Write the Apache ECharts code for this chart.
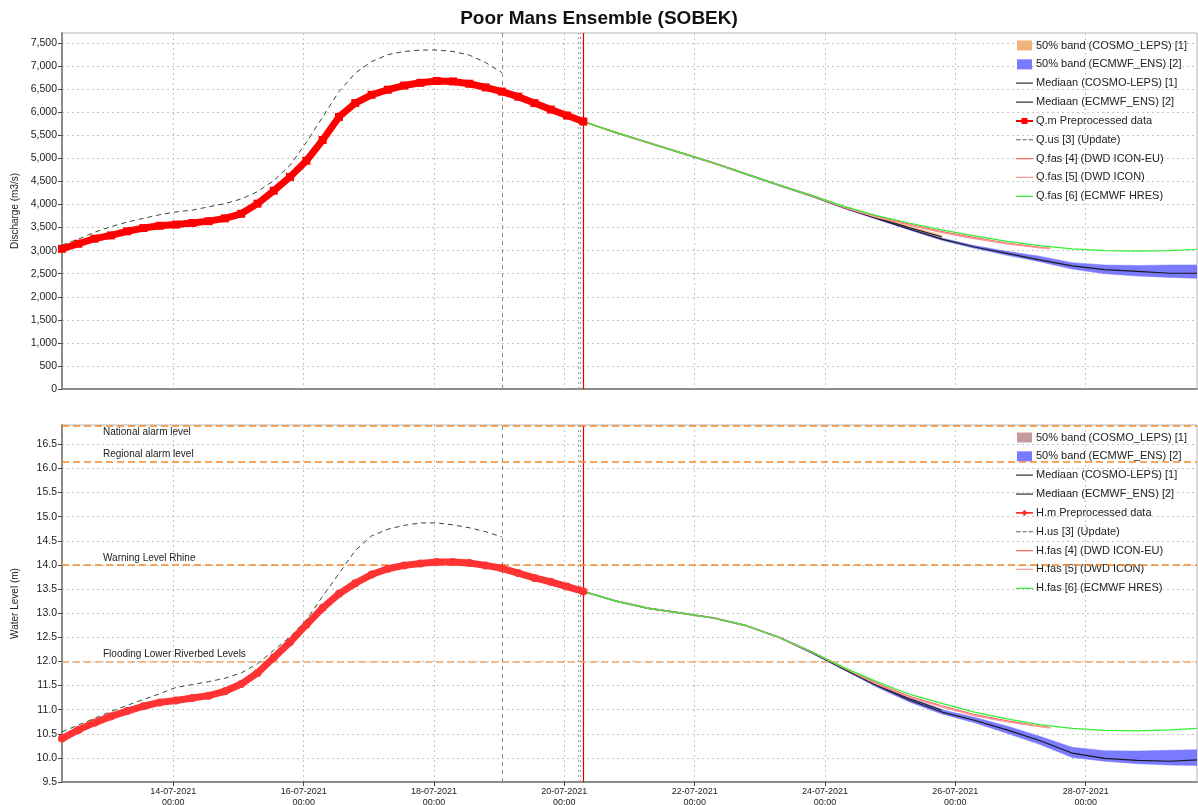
<!DOCTYPE html>
<html><head><meta charset="utf-8">
<script src="https://cdn.jsdelivr.net/npm/echarts@6/dist/echarts.min.js"></script>
<style>html,body{margin:0;padding:0;background:#fff}#c{width:1198px;height:805px}</style>
</head><body><div id="c"></div><script>
// ---------- DATA ----------
const obsTimes = ['2021-07-12 07:00','2021-07-12 13:00','2021-07-12 19:00','2021-07-13 01:00','2021-07-13 07:00','2021-07-13 13:00','2021-07-13 19:00','2021-07-14 01:00','2021-07-14 07:00','2021-07-14 13:00','2021-07-14 19:00','2021-07-15 01:00','2021-07-15 07:00','2021-07-15 13:00','2021-07-15 19:00','2021-07-16 01:00','2021-07-16 07:00','2021-07-16 13:00','2021-07-16 19:00','2021-07-17 01:00','2021-07-17 07:00','2021-07-17 13:00','2021-07-17 19:00','2021-07-18 01:00','2021-07-18 07:00','2021-07-18 13:00','2021-07-18 19:00','2021-07-19 01:00','2021-07-19 07:00','2021-07-19 13:00','2021-07-19 19:00','2021-07-20 01:00','2021-07-20 07:00'];
const updTimes = obsTimes.slice(0, 28);
const fcTimes = ['2021-07-20 07:00','2021-07-20 19:00','2021-07-21 07:00','2021-07-21 19:00','2021-07-22 07:00','2021-07-22 19:00','2021-07-23 07:00','2021-07-23 19:00','2021-07-24 07:00','2021-07-24 19:00','2021-07-25 07:00','2021-07-25 19:00','2021-07-26 07:00','2021-07-26 19:00','2021-07-27 07:00','2021-07-27 19:00','2021-07-28 07:00','2021-07-28 19:00','2021-07-29 07:00','2021-07-29 17:00'];
const cosmoTimes = fcTimes.slice(0, 12);
const iconTimes = ['2021-07-20 07:00','2021-07-20 19:00','2021-07-21 07:00','2021-07-21 19:00','2021-07-22 07:00','2021-07-22 19:00','2021-07-23 07:00','2021-07-23 19:00','2021-07-24 07:00','2021-07-24 19:00','2021-07-25 07:00','2021-07-25 19:00','2021-07-26 07:00','2021-07-26 19:00','2021-07-27 07:00','2021-07-27 11:00'];

// Discharge (m3/s)
const qObs = [3040,3150,3260,3330,3420,3490,3540,3565,3600,3640,3700,3800,4020,4300,4600,4950,5400,5900,6200,6380,6490,6580,6640,6680,6670,6620,6540,6450,6340,6200,6060,5930,5800];
const qUpd = [3120,3250,3400,3520,3620,3700,3780,3840,3880,3950,4020,4120,4280,4520,4850,5350,5900,6450,6850,7100,7250,7320,7350,7350,7320,7240,7080,6860];
const qHres = [5800,5560,5340,5120,4900,4660,4420,4200,3960,3760,3600,3450,3320,3200,3110,3040,3000,2990,3000,3030];
const qEnsMed = [5800,5560,5340,5120,4900,4660,4420,4190,3930,3700,3470,3250,3080,2940,2800,2670,2590,2550,2510,2510];
const qEnsLow = [5800,5550,5330,5110,4890,4650,4410,4175,3915,3680,3450,3225,3050,2900,2760,2600,2500,2450,2420,2400];
const qEnsHigh = [5800,5570,5350,5130,4910,4670,4430,4205,3945,3720,3495,3275,3110,2985,2880,2740,2690,2680,2690,2690];
const qCosmoMed = [5800,5560,5340,5120,4900,4660,4420,4190,3940,3720,3500,3300];
const qCosmoLow = [5790,5545,5325,5105,4885,4645,4405,4170,3915,3690,3465,3265];
const qCosmoHigh = [5810,5575,5355,5135,4915,4675,4435,4210,3965,3750,3535,3335];
const qIconEu = [5800,5560,5340,5120,4900,4660,4420,4200,3950,3745,3575,3415,3285,3165,3075,3050];
const qIcon = [5800,5560,5340,5120,4900,4660,4420,4195,3940,3725,3555,3395,3265,3150,3065,3045];

// Water level (m)
const hObs = [10.40,10.58,10.73,10.86,10.97,11.07,11.15,11.19,11.24,11.29,11.38,11.53,11.76,12.08,12.40,12.76,13.11,13.40,13.62,13.80,13.92,13.99,14.03,14.06,14.06,14.04,13.99,13.93,13.83,13.73,13.65,13.55,13.45];
const hUpd = [10.54,10.68,10.82,10.96,11.09,11.21,11.33,11.46,11.52,11.58,11.65,11.76,11.95,12.23,12.51,12.86,13.35,13.82,14.30,14.60,14.74,14.82,14.87,14.87,14.83,14.77,14.69,14.58];
const hHres = [13.45,13.25,13.10,13.00,12.90,12.74,12.50,12.20,11.87,11.58,11.32,11.13,10.95,10.81,10.69,10.61,10.57,10.56,10.58,10.61];
const hEnsMed = [13.45,13.25,13.10,13.00,12.90,12.74,12.50,12.19,11.84,11.50,11.20,10.95,10.78,10.58,10.36,10.10,9.99,9.95,9.93,9.96];
const hEnsLow = [13.45,13.24,13.09,12.99,12.89,12.73,12.49,12.17,11.82,11.47,11.16,10.91,10.73,10.51,10.28,10.01,9.93,9.88,9.85,9.84];
const hEnsHigh = [13.45,13.26,13.11,13.01,12.91,12.75,12.51,12.21,11.87,11.54,11.25,11.00,10.84,10.66,10.45,10.22,10.15,10.14,10.16,10.17];
const hCosmoMed = [13.45,13.25,13.10,13.00,12.90,12.74,12.50,12.19,11.85,11.52,11.23,10.99];
const hCosmoLow = [13.44,13.24,13.09,12.99,12.89,12.73,12.49,12.17,11.83,11.50,11.21,10.97];
const hCosmoHigh = [13.46,13.26,13.11,13.01,12.91,12.75,12.51,12.21,11.87,11.54,11.25,11.01];
const hIconEu = [13.45,13.25,13.10,13.00,12.90,12.74,12.50,12.20,11.87,11.55,11.28,11.08,10.90,10.77,10.66,10.63];
const hIcon = [13.45,13.25,13.10,13.00,12.90,12.74,12.50,12.20,11.86,11.53,11.26,11.06,10.88,10.75,10.65,10.62];

// thresholds (m)
const levelNames = ['National alarm level','Regional alarm level','Warning Level Rhine','Flooding Lower Riverbed Levels'];
const levelValues = [16.89, 16.14, 14.0, 12.0];

// axes
const xStart = '2021-07-12 07:00', xEnd = '2021-07-29 17:00';
const xTicks = ['2021-07-14 00:00','2021-07-16 00:00','2021-07-18 00:00','2021-07-20 00:00','2021-07-22 00:00','2021-07-24 00:00','2021-07-26 00:00','2021-07-28 00:00'];
const qTicks = [0,500,1000,1500,2000,2500,3000,3500,4000,4500,5000,5500,6000,6500,7000,7500];
const hTicks = [9.5,10.0,10.5,11.0,11.5,12.0,12.5,13.0,13.5,14.0,14.5,15.0,15.5,16.0,16.5];
const qRange = [0, 7720], hRange = [9.5, 16.9];
const updEnd = '2021-07-19 01:00';
const runMarks = ['2021-07-20 05:00','2021-07-20 06:00'];
const t0 = '2021-07-20 07:00';

// ---------- HELPERS ----------
const P = s => Date.UTC(+s.slice(0,4), +s.slice(5,7)-1, +s.slice(8,10), +s.slice(11,13), +s.slice(14,16));
const zip = (t, v) => t.map((s, i) => [P(s), v[i]]);
const pad = n => (n < 10 ? '0' : '') + n;
const fmtX = v => { const d = new Date(v); return pad(d.getUTCDate())+'-'+pad(d.getUTCMonth()+1)+'-'+d.getUTCFullYear()+'\n'+pad(d.getUTCHours())+':'+pad(d.getUTCMinutes()); };
const FONT = 'Liberation Sans, Arial, sans-serif';

const C = {
  cosmoQ:'#F2B27C', cosmoH:'#C99A9A', ens:'#7A7AFF', med:'#1a1a1a', obsQ:'#FF0000', obsH:'#FF3333',
  upd:'#2C4F2C', iconEu:'#FF4A4A', icon:'#FF9A9A', hres:'#33F033'
};

// legend icons (17x10 box)
const ICON_LINE = 'path://M0,0L0,0.01M0,4.4H17V5.6H0ZM17,10L17,10.01';
const ICON_DASH = 'path://M0,0L0,0.01M0,4.4H4.5V5.6H0ZM6.5,4.4H10.5V5.6H6.5ZM12.5,4.4H17V5.6H12.5ZM17,10L17,10.01';
const ICON_SQ = 'path://M0,0L0,0.01M0,4H17V6H0ZM5.5,2H11.5V8H5.5ZM17,10L17,10.01';
const ICON_DOT = 'path://M0,0L0,0.01M0,4.2H17V5.8H0ZM8.5,1.8L11.7,5L8.5,8.2L5.3,5ZM17,10L17,10.01';
const ICON_BOX = 'path://M0,0H15V10H0Z';

function vLines() {
  return {
    silent: true, symbol: 'none', label: {show: false},
    data: [
      {xAxis: P(updEnd), lineStyle: {color: '#8a8a8a', type: [4,4], width: 1}},
      {xAxis: P(runMarks[0]), lineStyle: {color: '#a0a0a0', type: [2,3], width: 1}},
      {xAxis: P(runMarks[1]), lineStyle: {color: '#a0a0a0', type: [2,3], width: 1}},
      {xAxis: P(t0), lineStyle: {color: '#E00000', type: 'solid', width: 1.2}}
    ]
  };
}

function band(ix, name, times, low, high, color) {
  return {
    type: 'custom', name: name, xAxisIndex: ix, yAxisIndex: ix, z: 1, silent: true, animation: false,
    itemStyle: {color: color}, clip: true,
    data: times.map((t, i) => [P(t), low[i], high[i]]),
    encode: {x: 0, y: [1, 2]},
    renderItem: function (params, api) {
      if (params.dataIndex !== 0) return null;
      const pts = [];
      for (let i = 0; i < times.length; i++) pts.push(api.coord([P(times[i]), high[i]]));
      for (let i = times.length - 1; i >= 0; i--) pts.push(api.coord([P(times[i]), low[i]]));
      return {type: 'polygon', shape: {points: pts}, style: {fill: color, stroke: color, lineWidth: 0.5}};
    }
  };
}

function groupSeries(ix, pre, suf, d, cosmoColor, obsSymbol) {
  const base = {type: 'line', xAxisIndex: ix, yAxisIndex: ix, symbol: 'none', animation: false};
  const s = [];
  s.push(band(ix, '50% band (COSMO_LEPS) [1]'+suf, cosmoTimes, d.cLow, d.cHigh, cosmoColor));
  s.push(band(ix, '50% band (ECMWF_ENS) [2]'+suf, fcTimes, d.eLow, d.eHigh, C.ens));
  s.push(Object.assign({}, base, {name: 'Mediaan (COSMO-LEPS) [1]'+suf, data: zip(cosmoTimes, d.cMed), lineStyle: {color: C.med, width: 1}, itemStyle: {color: '#3a3a3a'}, z: 3}));
  s.push(Object.assign({}, base, {name: 'Mediaan (ECMWF_ENS) [2]'+suf, data: zip(fcTimes, d.eMed), lineStyle: {color: C.med, width: 1.2}, itemStyle: {color: '#3a3a3a'}, z: 3}));
  s.push(Object.assign({}, base, {name: pre+'.m Preprocessed data', data: zip(obsTimes, d.obs), symbol: obsSymbol, symbolSize: 8,
    showSymbol: true, lineStyle: {color: d.obsColor, width: 7}, itemStyle: {color: d.obsColor}, z: 6, markLine: vLines()}));
  s.push(Object.assign({}, base, {name: pre+'.us [3] (Update)', data: zip(updTimes, d.upd), lineStyle: {color: C.upd, width: 1, type: [5,4]}, itemStyle: {color: '#4a6a4a'}, z: 5}));
  s.push(Object.assign({}, base, {name: pre+'.fas [4] (DWD ICON-EU)', data: zip(iconTimes, d.iconEu), lineStyle: {color: C.iconEu, width: 1}, itemStyle: {color: '#FF6A6A'}, z: 4}));
  s.push(Object.assign({}, base, {name: pre+'.fas [5] (DWD ICON)', data: zip(iconTimes, d.icon), lineStyle: {color: C.icon, width: 1.5}, itemStyle: {color: C.icon}, z: 4}));
  s.push(Object.assign({}, base, {name: pre+'.fas [6] (ECMWF HRES)', data: zip(fcTimes, d.hres), lineStyle: {color: C.hres, width: 1.2}, itemStyle: {color: C.hres}, z: 5}));
  return s;
}

const topSeries = groupSeries(0, 'Q', '', {cLow: qCosmoLow, cHigh: qCosmoHigh, eLow: qEnsLow, eHigh: qEnsHigh, cMed: qCosmoMed, eMed: qEnsMed,
  obs: qObs, obsColor: C.obsQ, upd: qUpd, iconEu: qIconEu, icon: qIcon, hres: qHres}, C.cosmoQ, 'rect');

const thrColors = ['#F28A2A','#F28A2A','#F28A2A','#F5A766'];
const thrPos = ['insideStartBottom','insideStartTop','insideStartTop','insideStartTop'];
const bottomMarks = vLines();
levelNames.forEach((n, i) => {
  bottomMarks.data.push({yAxis: levelValues[i], name: n,
    lineStyle: {color: thrColors[i], type: [7,4], width: 1.6},
    label: {show: true, formatter: n, position: thrPos[i], distance: [41, 2], color: '#222', fontSize: 10, fontFamily: FONT}});
});
const bottomSeries = groupSeries(1, 'H', ' ', {cLow: hCosmoLow, cHigh: hCosmoHigh, eLow: hEnsLow, eHigh: hEnsHigh, cMed: hCosmoMed, eMed: hEnsMed,
  obs: hObs, obsColor: C.obsH, upd: hUpd, iconEu: hIconEu, icon: hIcon, hres: hHres}, C.cosmoH, 'circle');
bottomSeries[4].markLine = bottomMarks;

function legendFor(series, top) {
  const items = series.map(s => {
    let icon = ICON_LINE;
    if (s.type === 'custom') icon = ICON_BOX;
    else if (/\.us /.test(s.name)) icon = ICON_DASH;
    else if (/\.m /.test(s.name)) icon = (s.symbol === 'rect' ? ICON_SQ : ICON_DOT);
    return {name: s.name, icon: icon};
  });
  return {data: items, orient: 'vertical', left: 1011, top: top, itemWidth: 17, itemHeight: 10, itemGap: 7.85,
    textStyle: {fontFamily: FONT, fontSize: 11, color: '#222', padding: [0,0,0,-2]}, selectedMode: false, backgroundColor: 'transparent'};
}

const gridLine = {show: true, lineStyle: {color: '#c4c4c4', type: [2,3], width: 1}};

const option = {
  backgroundColor: '#fff',
  animation: false,
  title: {text: 'Poor Mans Ensemble (SOBEK)', left: 'center', top: 4, textStyle: {fontFamily: FONT, fontSize: 19, fontWeight: 'bold', color: '#111'}},
  grid: [
    {left: 62, top: 33, right: 1, height: 356, show: true, borderColor: '#b5b5b5', borderWidth: 1, containLabel: false, outerBoundsMode: 'none'},
    {left: 62, top: 425, right: 1, height: 357, show: true, borderColor: '#b5b5b5', borderWidth: 1, containLabel: false, outerBoundsMode: 'none'}
  ],
  xAxis: [0, 1].map(i => ({
    type: 'value', gridIndex: i, min: P(xStart), max: P(xEnd),
    axisLine: {show: true, lineStyle: {color: '#8c8c8c', width: 2}},
    axisTick: {show: i === 1, customValues: xTicks.map(P), length: 4, lineStyle: {color: '#444'}},
    axisLabel: {show: i === 1, customValues: xTicks.map(P), formatter: fmtX, fontFamily: FONT, fontSize: 9, color: '#222', lineHeight: 11, margin: 4},
    splitLine: gridLine
  })),
  yAxis: [
    {type: 'value', gridIndex: 0, min: qRange[0], max: qRange[1], name: 'Discharge (m3/s)', nameLocation: 'middle', nameGap: 42, nameRotate: 90,
      nameTextStyle: {fontFamily: FONT, fontSize: 10, color: '#222'},
      axisLine: {show: true, lineStyle: {color: '#8c8c8c', width: 2}},
      axisTick: {show: true, customValues: qTicks, length: 4, lineStyle: {color: '#444'}},
      axisLabel: {customValues: qTicks, formatter: v => v.toLocaleString('en-US'), fontFamily: FONT, fontSize: 10.5, color: '#222', margin: 5},
      splitLine: gridLine},
    {type: 'value', gridIndex: 1, min: hRange[0], max: hRange[1], name: 'Water Level (m)', nameLocation: 'middle', nameGap: 42, nameRotate: 90,
      nameTextStyle: {fontFamily: FONT, fontSize: 10, color: '#222'},
      axisLine: {show: true, lineStyle: {color: '#8c8c8c', width: 2}},
      axisTick: {show: true, customValues: hTicks, length: 4, lineStyle: {color: '#444'}},
      axisLabel: {customValues: hTicks, formatter: v => v.toFixed(1), fontFamily: FONT, fontSize: 10.5, color: '#222', margin: 5},
      splitLine: gridLine}
  ],
  legend: [legendFor(topSeries, 35), legendFor(bottomSeries, 427)],
  series: topSeries.concat(bottomSeries)
};

const chart = echarts.init(document.getElementById('c'), null, {renderer: 'canvas'});
chart.setOption(option);
</script></body></html>
